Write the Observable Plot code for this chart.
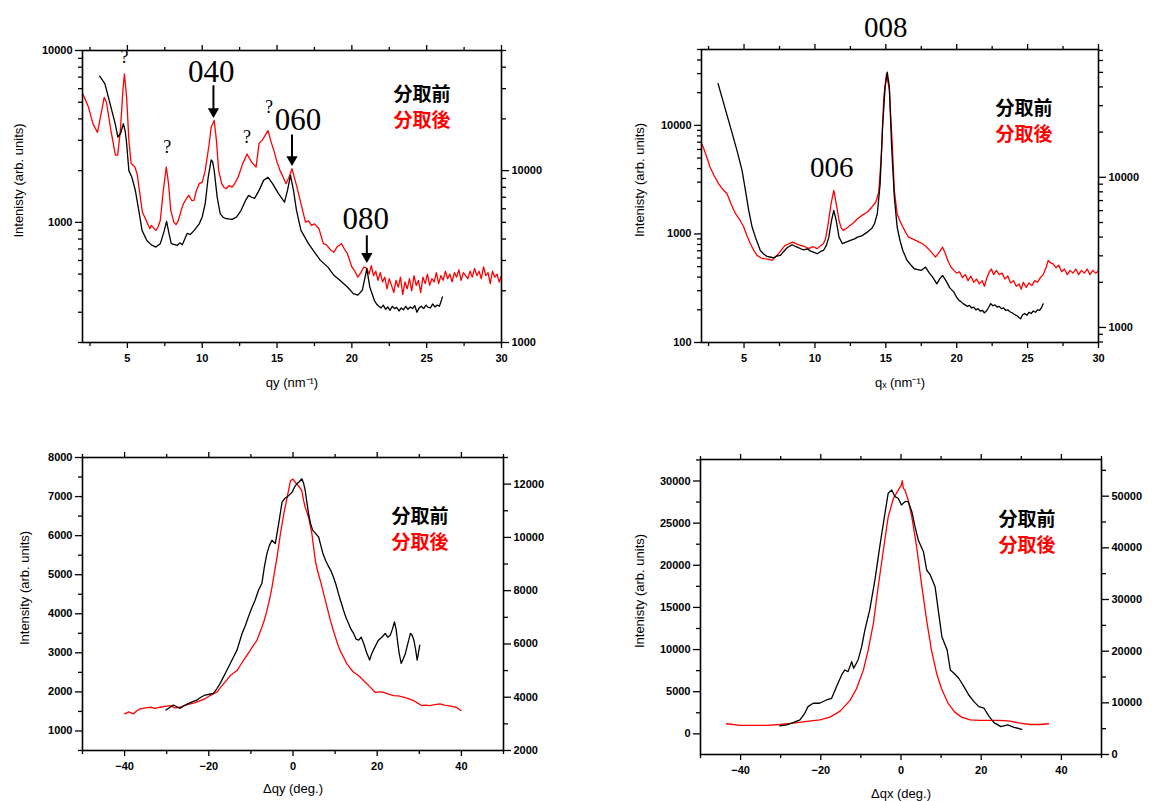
<!DOCTYPE html>
<html><head><meta charset="utf-8">
<script src="https://cdn.jsdelivr.net/npm/d3@7"></script>
<script src="https://cdn.jsdelivr.net/npm/@observablehq/plot@0.6"></script>
<style>
html,body{margin:0;padding:0;background:#fff;}
#wrap{position:relative;width:1173px;height:801px;background:#fff;overflow:hidden;}
#wrap svg{position:absolute;left:0;top:0;}
</style></head><body><div id="wrap"></div>
<script>
// ---------- Panel 1: qy scan (log) ----------
const qyBefore = [[3.15,7100],[3.5,6400],[3.9,4680],[4.2,3700],[4.36,3130],[4.55,3300],[4.73,3750],[4.85,3400],[4.93,3000],[5.1,2000],[5.3,1830],[5.53,1535],[5.76,1175],[5.98,898],[6.3,785],[6.6,740],[6.9,718],[7.2,752],[7.44,880],[7.62,1014],[7.78,863],[7.93,753],[8.1,745],[8.33,734],[8.5,760],[8.67,740],[9.0,863],[9.2,850],[9.47,898],[9.8,980],[10.0,1075],[10.2,1285],[10.4,1830],[10.6,2310],[10.7,2250],[10.8,2005],[11.0,1403],[11.2,1125],[11.4,1070],[11.6,1050],[12.0,1040],[12.3,1075],[12.6,1175],[12.9,1343],[13.1,1435],[13.3,1400],[13.5,1380],[13.8,1535],[14.1,1755],[14.4,1830],[14.7,1680],[15.1,1470],[15.5,1312],[15.7,1535],[15.9,1875],[16.1,1535],[16.3,1175],[16.6,898],[17.1,752],[17.5,672],[17.9,601],[18.4,549],[18.8,492],[19.2,460],[19.7,421],[20.1,385],[20.4,377],[20.7,403],[21.0,537],[21.2,421],[21.5,352],[21.65,335],[21.8,325],[21.95,318],[22.1,330],[22.25,312],[22.4,322],[22.55,308],[22.7,325],[22.85,315],[23.0,320],[23.15,305],[23.3,318],[23.45,310],[23.6,325],[23.75,312],[23.9,322],[24.05,315],[24.2,328],[24.35,300],[24.5,318],[24.65,325],[24.8,315],[24.95,330],[25.1,320],[25.25,318],[25.4,335],[25.55,322],[25.7,330],[25.85,325],[26.0,355],[26.05,368]];
const qyAfter = [[2.0,28200],[2.2,25800],[2.4,23400],[2.7,18700],[3.0,16700],[3.2,20500],[3.45,26700],[3.6,25000],[3.9,17100],[4.2,12300],[4.35,12300],[4.53,17100],[4.7,29200],[4.8,36500],[4.95,26700],[5.1,15000],[5.25,11000],[5.5,10500],[5.65,9600],[5.8,7700],[6.0,5740],[6.3,5020],[6.5,4600],[6.6,4800],[6.9,4490],[7.05,4700],[7.2,5140],[7.4,7670],[7.6,10500],[7.75,8400],[7.9,5870],[8.1,5020],[8.25,4850],[8.4,5100],[8.6,5900],[8.75,6430],[9.0,7000],[9.1,7180],[9.3,6700],[9.45,6720],[9.6,7600],[9.8,8400],[10.0,8570],[10.2,10000],[10.45,14000],[10.6,17900],[10.8,19600],[10.95,15000],[11.1,10000],[11.3,8400],[11.45,8000],[11.6,7850],[11.8,8200],[12.0,8020],[12.2,8500],[12.4,9160],[12.7,10950],[13.0,12500],[13.15,11800],[13.3,11200],[13.6,10500],[13.8,14400],[14.0,15000],[14.2,16000],[14.4,17100],[14.6,14700],[14.8,13000],[15.0,11200],[15.2,10000],[15.4,9200],[15.6,8400],[15.8,9160],[16.0,10250],[16.3,8200],[16.6,6430],[16.9,5020],[17.1,5100],[17.3,4800],[17.5,4900],[17.8,4590],[18.1,3760],[18.3,3700],[18.6,3440],[18.8,3350],[19.0,3590],[19.3,3760],[19.5,3500],[19.7,3290],[20.0,2750],[20.2,2600],[20.4,2400],[20.6,2550],[20.8,2750],[21.0,2700],[21.15,2500],[21.3,2800],[21.45,2450],[21.6,2600],[21.75,2300],[21.9,2550],[22.05,2250],[22.2,2400],[22.35,2050],[22.5,2350],[22.65,2150],[22.8,1950],[22.95,2300],[23.1,2100],[23.25,2400],[23.4,1900],[23.55,2250],[23.7,2050],[23.85,2350],[24.0,2000],[24.15,2450],[24.3,2150],[24.45,2300],[24.6,1950],[24.75,2400],[24.9,2200],[25.05,2500],[25.2,2150],[25.35,2350],[25.5,2250],[25.65,2550],[25.8,2200],[25.95,2450],[26.1,2300],[26.25,2600],[26.4,2350],[26.55,2500],[26.7,2250],[26.85,2550],[27.0,2400],[27.15,2650],[27.3,2300],[27.45,2550],[27.6,2450],[27.75,2350],[27.9,2600],[28.05,2400],[28.2,2700],[28.35,2450],[28.5,2600],[28.65,2350],[28.8,2750],[28.95,2450],[29.1,2550],[29.25,2200],[29.4,2600],[29.55,2400],[29.7,2500],[29.85,2250],[30.0,2450]];

// ---------- Panel 2: qx scan (log) ----------
const qxBefore = [[3.17,24200],[3.57,15850],[4.04,9650],[4.5,5890],[4.86,3850],[5.1,2520],[5.33,1650],[5.57,1157],[5.8,934],[6.15,704],[6.4,650],[6.62,621],[6.9,610],[7.1,603],[7.3,625],[7.57,634],[7.8,690],[8.04,746],[8.39,795],[8.6,770],[8.75,755],[9.0,730],[9.22,715],[9.45,730],[9.69,695],[9.9,680],[10.16,657],[10.4,690],[10.6,704],[10.8,780],[10.98,934],[11.17,1330],[11.33,1650],[11.5,1330],[11.7,934],[11.94,813],[12.2,840],[12.5,871],[12.8,900],[13.0,934],[13.3,960],[13.7,1040],[14.0,1120],[14.2,1242],[14.4,1535],[14.6,2900],[14.77,9650],[14.95,22500],[15.1,31000],[15.25,22500],[15.4,6780],[15.6,2180],[15.8,1157],[16.0,870],[16.2,704],[16.5,570],[16.75,520],[17.0,478],[17.25,470],[17.5,461],[17.8,495],[18.05,440],[18.3,400],[18.6,347],[18.8,385],[19.0,415],[19.3,360],[19.5,320],[19.8,291],[20.0,260],[20.15,245],[20.3,238],[20.45,228],[20.6,222],[20.75,215],[20.9,220],[21.05,208],[21.2,212],[21.35,200],[21.5,205],[21.65,195],[21.8,198],[21.95,188],[22.1,195],[22.25,210],[22.4,228],[22.55,218],[22.7,222],[22.85,212],[23.0,215],[23.15,205],[23.3,208],[23.45,198],[23.6,200],[23.75,192],[23.9,188],[24.05,182],[24.2,178],[24.35,172],[24.5,165],[24.65,180],[24.8,185],[24.95,178],[25.1,190],[25.25,185],[25.4,195],[25.55,190],[25.7,200],[25.85,198],[26.0,212],[26.1,227]];
const qxAfter = [[2.0,16800],[2.1,16100],[2.35,13800],[2.6,11700],[2.9,10200],[3.2,9080],[3.5,8300],[3.8,7780],[4.1,6600],[4.4,5720],[4.7,5200],[4.98,4670],[5.2,4100],[5.45,3610],[5.7,3250],[5.92,3020],[6.2,2900],[6.4,2870],[6.7,2850],[7.0,2800],[7.2,2950],[7.45,3100],[7.7,3350],[7.9,3520],[8.15,3600],[8.4,3700],[8.7,3600],[9.0,3520],[9.3,3450],[9.57,3350],[9.85,3450],[10.16,3350],[10.4,3500],[10.6,3610],[10.75,3900],[10.9,4670],[11.14,6680],[11.33,8190],[11.5,6680],[11.7,5170],[11.85,4600],[12.0,4430],[12.25,4600],[12.5,4790],[12.75,5000],[13.0,5300],[13.35,5600],[13.7,5870],[14.0,6300],[14.3,6850],[14.5,7980],[14.68,13700],[14.86,34400],[15.05,49100],[15.25,38000],[15.45,16800],[15.6,8190],[15.8,5720],[16.0,5100],[16.2,4670],[16.4,4300],[16.6,4000],[16.85,3900],[17.1,3800],[17.35,3700],[17.6,3610],[17.85,3450],[18.1,3260],[18.3,3100],[18.5,2940],[18.75,3150],[19.0,3430],[19.2,3100],[19.4,2750],[19.6,2520],[19.8,2400],[20.0,2300],[20.2,2350],[20.4,2150],[20.6,2250],[20.8,2050],[21.0,2200],[21.2,2000],[21.4,2100],[21.6,1950],[21.8,2050],[21.95,1880],[22.1,2100],[22.3,2350],[22.45,2450],[22.6,2250],[22.8,2400],[23.0,2250],[23.2,2300],[23.4,2100],[23.6,2200],[23.8,1980],[24.0,2050],[24.2,1880],[24.4,1950],[24.55,1800],[24.7,2000],[24.9,1850],[25.1,1980],[25.3,1900],[25.5,2050],[25.7,2000],[25.9,2150],[26.1,2250],[26.3,2500],[26.45,2800],[26.6,2700],[26.8,2650],[27.0,2500],[27.2,2600],[27.4,2350],[27.6,2450],[27.8,2250],[28.0,2400],[28.2,2300],[28.4,2450],[28.6,2250],[28.8,2400],[29.0,2300],[29.2,2450],[29.4,2250],[29.6,2400],[29.8,2300],[30.0,2380]];

// ---------- Panel 3: Δqy rocking (linear) ----------
const dqyBefore = [[-30.2,1537],[-29.3,1600],[-28.4,1664],[-27.6,1620],[-26.8,1580],[-25.8,1650],[-24.8,1707],[-23.8,1750],[-22.8,1792],[-21.8,1870],[-20.9,1920],[-19.9,1940],[-18.9,1963],[-18.1,2080],[-17.3,2218],[-16.1,2473],[-14.9,2729],[-14.1,2900],[-13.3,3070],[-12.1,3496],[-11.3,3700],[-10.6,3920],[-9.8,4150],[-9.0,4347],[-8.2,4600],[-7.4,4773],[-6.8,5200],[-6.2,5540],[-5.6,5750],[-5.0,5880],[-4.2,5795],[-3.4,6306],[-2.6,6858],[-2.0,6950],[-1.4,6986],[-0.8,7050],[-0.2,7114],[0.4,7250],[0.9,7328],[1.5,7380],[2.1,7456],[2.5,7350],[2.9,7157],[3.3,6850],[3.7,6560],[4.2,6300],[4.7,6135],[5.4,6050],[6.1,5964],[6.6,5750],[7.1,5540],[7.8,5350],[8.5,5199],[9.0,5100],[9.6,4943],[10.2,4750],[10.8,4517],[11.4,4300],[12.0,4091],[12.6,3900],[13.2,3751],[13.8,3600],[14.4,3496],[15.0,3350],[15.6,3325],[16.2,3400],[16.8,3240],[17.5,3000],[18.2,2814],[18.6,2950],[19.1,3070],[19.7,3200],[20.3,3325],[21.1,3400],[21.9,3496],[22.5,3400],[23.1,3453],[23.6,3600],[24.1,3793],[24.5,3600],[24.8,3325],[25.2,3000],[25.7,2729],[26.2,2850],[26.7,2985],[27.3,3250],[27.9,3496],[28.3,3450],[28.7,3325],[29.1,3100],[29.5,2814],[29.8,3000],[30.1,3198]];
const dqyAfter = [[-40.0,3376],[-39.0,3450],[-37.9,3376],[-37.0,3500],[-36.3,3564],[-35.0,3600],[-33.9,3624],[-32.7,3580],[-31.6,3624],[-30.4,3660],[-29.2,3688],[-28.0,3600],[-26.8,3624],[-25.6,3700],[-24.4,3751],[-23.2,3800],[-22.0,3875],[-20.8,3950],[-19.7,4063],[-18.1,4186],[-17.3,4350],[-16.5,4500],[-15.7,4650],[-14.9,4813],[-13.3,5000],[-12.5,5200],[-11.8,5375],[-11.0,5560],[-10.2,5750],[-9.4,5950],[-8.6,6125],[-7.4,6624],[-6.8,6900],[-6.2,7250],[-5.6,7650],[-5.0,8124],[-4.4,8700],[-3.8,9249],[-3.0,10126],[-2.2,10876],[-1.4,11500],[-0.6,12125],[0,12189],[0.4,12100],[0.9,12000],[1.5,11900],[2.1,11750],[2.5,11400],[2.9,11124],[3.3,10950],[3.7,10749],[4.1,10450],[4.5,10126],[5.3,9125],[5.9,8700],[6.5,8375],[7.1,8000],[7.7,7625],[8.3,7250],[8.9,6875],[9.5,6550],[10.1,6249],[10.6,6000],[11.2,5750],[12.0,5500],[12.8,5251],[13.6,5080],[14.4,4936],[15.2,4850],[16.0,4749],[16.8,4620],[17.6,4500],[18.5,4350],[19.5,4186],[20.5,4200],[21.5,4186],[22.7,4120],[23.9,4063],[25.0,4050],[26.2,4001],[27.4,3950],[28.6,3875],[29.6,3780],[30.6,3688],[31.5,3700],[32.5,3688],[33.7,3720],[34.9,3751],[35.9,3700],[36.9,3688],[37.9,3650],[38.8,3624],[39.9,3500]];

// ---------- Panel 4: Δqx rocking (linear) ----------
const dqxBefore = [[-30.2,937],[-28.5,1056],[-26.9,1329],[-25.2,1649],[-24.0,2440],[-23.2,3230],[-21.9,3630],[-20.3,3630],[-18.6,4020],[-17.3,4220],[-16.1,5600],[-14.8,6990],[-14.0,7580],[-13.2,7380],[-12.3,8560],[-11.8,7780],[-10.7,8770],[-9.8,10340],[-9.0,12330],[-7.8,14700],[-6.5,18260],[-5.3,22210],[-4.0,26170],[-3.2,28540],[-2.3,28930],[-1.5,28140],[-0.7,27950],[0.1,27150],[1.0,27550],[1.8,27550],[2.7,26360],[3.5,24580],[4.3,23000],[5.6,21610],[6.4,19440],[7.3,18850],[8.5,17460],[9.4,14300],[10.2,11530],[11.5,9950],[12.3,7580],[13.2,7190],[14.4,6600],[15.7,5600],[16.9,4610],[18.2,3820],[19.4,3230],[20.7,3040],[22.0,2040],[23.2,1330],[24.9,855],[26.6,1056],[28.2,780],[30.1,545]];
const dqxAfter = [[-43.5,5950],[-40.1,5620],[-36.8,5620],[-33.5,5620],[-30.2,5810],[-26.9,6070],[-23.5,6400],[-20.2,6720],[-17.7,7230],[-15.2,8390],[-12.7,10470],[-11.1,12730],[-9.4,16280],[-8.2,20150],[-6.9,25330],[-5.7,32420],[-4.4,39530],[-3.2,45990],[-1.9,49550],[-0.7,51160],[0.1,52130],[0.3,53000],[0.6,51500],[1.0,51160],[1.8,49220],[2.7,45990],[3.9,40170],[5.1,33080],[6.4,25970],[7.6,20150],[8.9,15640],[10.1,12730],[11.8,9830],[13.4,8200],[15.1,7230],[17.2,6720],[19.7,6590],[22.2,6590],[24.7,6590],[27.2,6460],[29.7,6070],[32.2,5810],[34.7,5810],[36.8,5950]];

// ---------- Text ----------
const legendLabels = ["分取前", "分取後"];
const panelTitles = {
  p1: {x: "qy (nm\u207B\u00B9)", y: "Intenisty (arb. units)"},
  p2: {x: "q\u2093 (nm\u207B\u00B9)", y: "Intenisty (arb. units)"},
  p3: {x: "\u0394qy (deg.)", y: "Intensity (arb. units)"},
  p4: {x: "\u0394qx (deg.)", y: "Intenisty (arb. units)"}
};
// peak labels (data coordinates of the left axis)
const p1Labels = [
  {t: "?", x: 4.8, y: 9100, big: false},
  {t: "040", x: 10.6, y: 7450, big: true},
  {t: "?", x: 7.67, y: 2730, big: false},
  {t: "?", x: 13.0, y: 3120, big: false},
  {t: "?", x: 14.47, y: 4670, big: false},
  {t: "060", x: 16.4, y: 3920, big: true},
  {t: "080", x: 20.93, y: 1040, big: true}
];
const p1Arrows = [
  {x: 10.75, y1: 6270, y2: 4190},
  {x: 16.0, y1: 3250, y2: 2200},
  {x: 21.0, y1: 840, y2: 601}
];
const p2Labels = [
  {t: "008", x: 15.0, y: 79300, big: true},
  {t: "006", x: 11.19, y: 4100, big: true}
];

// ---------- Ticks ----------
const range = (a, b, s) => d3.range(a, b + s / 2, s);
const logMinor = (lo, hi) => {
  const out = [];
  for (let e = 1; e <= 5; e++) for (let m = 1; m <= 9; m++) {
    const v = m * Math.pow(10, e);
    if (v >= lo - 1e-6 && v <= hi + 1e-6) out.push(v);
  }
  return out;
};

const fmt = d => (d < 0 ? "\u2212" + (-d) : String(d));
const noText = () => "";
const wrap = document.getElementById("wrap");
const baseStyle = {
  fontFamily: "'Liberation Sans', Arial, sans-serif",
  fontSize: "11px",
  fontWeight: "bold",
  color: "black",
  background: "transparent",
  overflow: "visible"
};

function render(c) {
  const box = document.createElement("div");
  box.style.cssText = `position:absolute;left:${c.left}px;top:${c.top}px;width:${c.width}px;height:${c.height}px;`;
  wrap.appendChild(box);
  const common = {
    width: c.width, height: c.height,
    marginTop: c.m[0], marginRight: c.m[1], marginBottom: c.m[2], marginLeft: c.m[3],
    style: baseStyle
  };
  const xy = {x: d => d[0], y: d => d[1]};
  // right-axis plot (red series)
  const right = Plot.plot({
    ...common,
    x: {domain: c.xDomain, axis: null},
    y: {type: c.yType, domain: c.yR},
    marks: [
      Plot.line(c.red, {...xy, stroke: "#ff0000", strokeWidth: 1.3, clip: true}),
      Plot.axisY({anchor: "right", ticks: c.yRMajor, tickSize: 7, tickPadding: 3, tickFormat: fmt, label: null, strokeWidth: 1.3}),
      Plot.axisY({anchor: "right", ticks: c.yRMinor, tickSize: 4, tickFormat: noText, label: null, strokeWidth: 1.3})
    ]
  });
  // left-axis plot (black series, frame, x axes, labels)
  const textFont = {fill: "black", fontFamily: "'Liberation Serif', 'DejaVu Serif', serif", fontWeight: "normal"};
  const legendFont = {fontSize: 19, fontWeight: "bold", fontFamily: "'Noto Sans CJK JP', sans-serif", textAnchor: "start", lineAnchor: "middle", frameAnchor: "top-left"};
  const marks = [
    Plot.line(c.black, {...xy, stroke: "black", strokeWidth: 1.3, clip: true}),
    Plot.frame({stroke: "black", strokeWidth: 1.6}),
    Plot.axisX({anchor: "bottom", ticks: c.xMajor, tickSize: 6, tickPadding: 6, tickFormat: fmt, label: null, strokeWidth: 1.3}),
    Plot.axisX({anchor: "bottom", ticks: c.xMinor, tickSize: 4, tickFormat: noText, label: null, strokeWidth: 1.3}),
    Plot.axisX({anchor: "top", ticks: c.xMajor, tickSize: 6, tickFormat: noText, label: null, strokeWidth: 1.3}),
    Plot.axisX({anchor: "top", ticks: c.xMinor, tickSize: 4, tickFormat: noText, label: null, strokeWidth: 1.3}),
    Plot.axisY({anchor: "left", ticks: c.yLMajor, tickSize: 7, tickPadding: 3, tickFormat: fmt, label: null, strokeWidth: 1.3}),
    Plot.axisY({anchor: "left", ticks: c.yLMinor, tickSize: 4, tickFormat: noText, label: null, strokeWidth: 1.3}),
    Plot.text([c.titles.x], {text: d => d, frameAnchor: "bottom", textAnchor: "middle", lineAnchor: "middle", dy: c.xTitleDy, fontSize: 13, fontWeight: "normal", fill: "black"}),
    Plot.text([c.titles.y], {text: d => d, frameAnchor: "left", textAnchor: "middle", lineAnchor: "middle", dx: c.yTitleDx, dy: -16, rotate: -90, fontSize: 13, fontWeight: "normal", fill: "black"}),
    Plot.text([legendLabels[0]], {text: d => d, dx: c.legend[0], dy: c.legend[1], fill: "black", ...legendFont}),
    Plot.text([legendLabels[1]], {text: d => d, dx: c.legend[0], dy: c.legend[1] + 26, fill: "#ff0000", ...legendFont})
  ];
  if (c.labels) {
    marks.push(Plot.text(c.labels.filter(d => d.big), {x: "x", y: "y", text: "t", fontSize: c.bigSize || 31, ...textFont}));
    marks.push(Plot.text(c.labels.filter(d => !d.big), {x: "x", y: "y", text: "t", fontSize: 18, ...textFont}));
  }
  if (c.arrows) {
    marks.push(Plot.link(c.arrows, {x1: "x", x2: "x", y1: "y1", y2: "y2", stroke: "black", strokeWidth: 2}));
    marks.push(Plot.dot(c.arrows, {x: "x", y: "y2", symbol: "triangle", rotate: 180, r: 4.2, fill: "black", stroke: "none", dy: -4}));
  }
  const left = Plot.plot({
    ...common,
    x: {domain: c.xDomain},
    y: {type: c.yType, domain: c.yL},
    marks
  });
  box.appendChild(right);
  box.appendChild(left);
}

render({
  left: 0, top: 0, width: 560, height: 400, m: [50, 59, 58, 82],
  xDomain: [2, 30], yType: "log", yL: [200, 10000], yR: [1000, 50000],
  xMajor: range(5, 30, 5), xMinor: range(2.5, 27.5, 5),
  yLMajor: [1000, 10000], yLMinor: logMinor(200, 10000).filter(v => v !== 1000 && v !== 10000),
  yRMajor: [1000, 10000], yRMinor: logMinor(1000, 50000).filter(v => v !== 1000 && v !== 10000),
  black: qyBefore, red: qyAfter, titles: panelTitles.p1,
  xTitleDy: 40, yTitleDx: -64, legend: [311, 44],
  labels: p1Labels, arrows: p1Arrows
});
render({
  left: 620, top: 0, width: 553, height: 400, m: [49, 75, 58, 81],
  xDomain: [2, 30], yType: "log", yL: [100, 50000], yR: [794, 71000],
  xMajor: range(5, 30, 5), xMinor: range(2.5, 27.5, 5),
  yLMajor: [100, 1000, 10000], yLMinor: logMinor(100, 50000).filter(v => ![100, 1000, 10000].includes(v)),
  yRMajor: [1000, 10000], yRMinor: logMinor(794, 71000).filter(v => v !== 1000 && v !== 10000),
  black: qxBefore, red: qxAfter, titles: panelTitles.p2,
  xTitleDy: 40, yTitleDx: -62, legend: [294, 59],
  labels: p2Labels, bigSize: 29
});
render({
  left: 0, top: 420, width: 560, height: 381, m: [37, 57, 51, 82],
  xDomain: [-50, 50], yType: "linear", yL: [500, 8000], yR: [2000, 13000],
  xMajor: range(-40, 40, 20), xMinor: range(-50, 50, 20),
  yLMajor: range(1000, 8000, 1000), yLMinor: range(500, 7500, 1000),
  yRMajor: range(2000, 12000, 2000), yRMinor: range(3000, 13000, 2000),
  black: dqyBefore, red: dqyAfter, titles: panelTitles.p3,
  xTitleDy: 38, yTitleDx: -58, legend: [309, 59]
});
render({
  left: 620, top: 420, width: 553, height: 381, m: [39, 72, 47, 80],
  xDomain: [-50, 50], yType: "linear", yL: [-2450, 32550], yR: [0, 57100],
  xMajor: range(-40, 40, 20), xMinor: range(-50, 50, 20),
  yLMajor: range(0, 30000, 5000), yLMinor: range(2500, 32500, 5000),
  yRMajor: range(0, 50000, 10000), yRMinor: range(5000, 55000, 10000),
  black: dqxBefore, red: dqxAfter, titles: panelTitles.p4,
  xTitleDy: 39, yTitleDx: -61, legend: [298, 60]
});
</script></body></html>
